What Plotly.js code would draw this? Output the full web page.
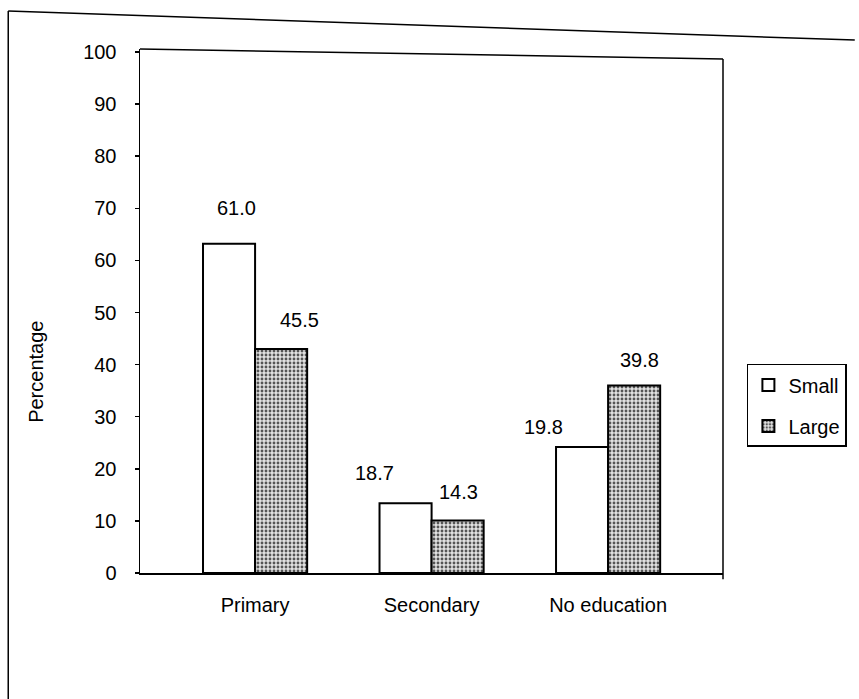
<!DOCTYPE html>
<html>
<head>
<meta charset="utf-8">
<script src="https://cdn.plot.ly/plotly-3.0.1.min.js"></script>
<style>
  html, body { margin: 0; padding: 0; background: #ffffff; }
  #chart { width: 859px; height: 699px; }
</style>
</head>
<body>
<div id="chart"></div>
<script>
// ---- data ----
var categories = ['Primary', 'Secondary', 'No education'];
var seriesNames = ['Small', 'Large'];
// bar heights as drawn (read against the axis)
var smallValues = [63.2, 13.4, 24.2];
var largeValues = [43.0, 10.1, 36.0];
// value labels as printed on the chart
var smallLabels = ['61.0', '18.7', '19.8'];
var largeLabels = ['45.5', '14.3', '39.8'];
var yTicks = [0, 10, 20, 30, 40, 50, 60, 70, 80, 90, 100];
var yTitle = 'Percentage';

// ---- style ----
var FONT = 'Liberation Sans, Arial, sans-serif';
var FS = 20;
var bargap = 0.41;
var barW = (1 - bargap) / 2;
// label nudges in pixels (style only)
var smallDx = [7, -31, -39], smallDy = [36, 30, 20];
var largeDx = [18, 1, 5],    largeDy = [29, 28, 25];

var traces = [
  {
    type: 'bar', name: seriesNames[0], x: categories, y: smallValues,
    legendgroup: 'a',
    marker: { color: '#ffffff', line: { color: '#000000', width: 2 } },
    hoverinfo: 'skip'
  },
  {
    type: 'bar', name: seriesNames[1], x: categories, y: largeValues,
    legendgroup: 'b',
    marker: {
      color: '#d8d8d8',
      line: { color: '#000000', width: 2 },
      pattern: { shape: '.', fgcolor: '#555555', bgcolor: '#e2e2e2', size: 4, solidity: 0.4 }
    },
    hoverinfo: 'skip'
  }
];

var annotations = [];
categories.forEach(function (c, i) {
  annotations.push({
    x: i - barW / 2, y: smallValues[i], xref: 'x', yref: 'y',
    text: smallLabels[i], showarrow: false, yanchor: 'middle', xanchor: 'center',
    xshift: smallDx[i], yshift: smallDy[i],
    font: { family: FONT, size: FS, color: '#000' }
  });
  annotations.push({
    x: i + barW / 2, y: largeValues[i], xref: 'x', yref: 'y',
    text: largeLabels[i], showarrow: false, yanchor: 'middle', xanchor: 'center',
    xshift: largeDx[i], yshift: largeDy[i],
    font: { family: FONT, size: FS, color: '#000' }
  });
});
// y-axis title (placed like the scan, below the plot centre)
annotations.push({
  xref: 'paper', yref: 'paper', x: -0.1786, y: 0.3836,
  text: yTitle, textangle: -90, showarrow: false,
  xanchor: 'center', yanchor: 'middle',
  font: { family: FONT, size: FS, color: '#000' }
});

var layout = {
  width: 859, height: 699,
  margin: { l: 140, r: 131, t: 49, b: 126, pad: 0 },
  paper_bgcolor: '#ffffff', plot_bgcolor: '#ffffff',
  font: { family: FONT, size: FS, color: '#000000' },
  barmode: 'group', bargap: bargap, bargroupgap: 0,
  showlegend: true,
  legend: {
    x: 1.041, y: 0.399, xanchor: 'left', yanchor: 'top',
    bordercolor: '#000000', borderwidth: 1.5, bgcolor: '#ffffff',
    font: { family: FONT, size: FS, color: '#000' },
    traceorder: 'grouped', tracegroupgap: 12, itemwidth: 30
  },
  xaxis: {
    type: 'category', range: [-0.652, 2.651],
    showline: true, linecolor: '#000000', linewidth: 1.5,
    ticks: '', showgrid: false, zeroline: false,
    tickfont: { family: FONT, size: FS, color: '#000' },
    ticklabelstandoff: 13, fixedrange: true
  },
  yaxis: {
    range: [0, 100.58], tickvals: yTicks, ticktext: yTicks.map(String),
    showline: true, linecolor: '#000000', linewidth: 1.5,
    ticks: 'outside', ticklen: 4, tickwidth: 1.5, tickcolor: '#000',
    showgrid: false, zeroline: false,
    tickfont: { family: FONT, size: FS, color: '#000' },
    ticklabelstandoff: 14,
    automargin: false, fixedrange: true
  },
  annotations: annotations,
  shapes: [
    // plot-area frame: top (slightly skewed like the scan) and right
    { type: 'line', xref: 'paper', yref: 'paper', x0: 0, y0: 1.0, x1: 1, y1: 0.981,
      line: { color: '#000', width: 1.5 } },
    { type: 'line', xref: 'paper', yref: 'paper', x0: 1, y0: -0.012, x1: 1, y1: 0.981,
      line: { color: '#000', width: 1.5 } },
    // outer chart border (left and top edges visible in the scan)
    { type: 'line', xref: 'paper', yref: 'paper', x0: -0.226, y0: -0.245, x1: -0.226, y1: 1.0725,
      line: { color: '#000', width: 1.5 } },
    { type: 'line', xref: 'paper', yref: 'paper', x0: -0.226, y0: 1.0725, x1: 1.226, y1: 1.017,
      line: { color: '#000', width: 1.5 } }
  ]
};

Plotly.newPlot('chart', traces, layout, { displayModeBar: false, staticPlot: true });
</script>
</body>
</html>
